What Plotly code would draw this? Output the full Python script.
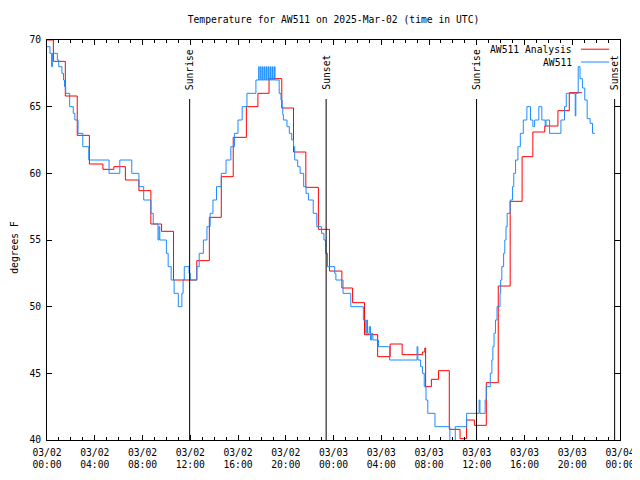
import plotly.graph_objects as go

# ---------------- data ----------------
analysis_time = [
    "2025-03-02 00:00", "2025-03-02 00:32", "2025-03-02 01:32", "2025-03-02 02:32",
    "2025-03-02 03:33", "2025-03-02 04:41", "2025-03-02 05:36", "2025-03-02 06:34",
    "2025-03-02 07:42", "2025-03-02 08:42", "2025-03-02 09:36", "2025-03-02 10:36",
    "2025-03-02 12:33", "2025-03-02 13:36", "2025-03-02 14:36", "2025-03-02 15:36",
    "2025-03-02 16:42", "2025-03-02 17:40", "2025-03-02 18:36", "2025-03-02 19:40",
    "2025-03-02 20:39", "2025-03-02 21:41", "2025-03-02 22:44", "2025-03-02 23:40",
    "2025-03-03 00:42", "2025-03-03 01:36", "2025-03-03 02:36", "2025-03-03 03:42",
    "2025-03-03 04:45", "2025-03-03 05:45", "2025-03-03 07:27", "2025-03-03 07:39",
    "2025-03-03 07:43", "2025-03-03 08:12", "2025-03-03 08:48", "2025-03-03 09:42",
    "2025-03-03 10:36", "2025-03-03 11:09", "2025-03-03 11:48", "2025-03-03 12:48",
    "2025-03-03 13:48", "2025-03-03 14:48", "2025-03-03 15:48", "2025-03-03 16:42",
    "2025-03-03 17:42", "2025-03-03 18:48", "2025-03-03 19:45", "2025-03-03 20:48",
]
analysis_temp = [
    70.0, 68.4, 65.8, 62.85,
    60.7, 60.3, 60.5, 59.5,
    58.7, 56.2, 55.65, 52.0,
    53.45, 56.7, 59.75, 62.7,
    65.0, 66.0, 67.1, 64.9,
    61.6, 58.95, 55.8, 52.67,
    51.4, 50.3, 47.9, 46.25,
    47.2, 46.4, 46.6, 46.9,
    44.0, 44.55, 45.2, 40.8,
    40.1, 41.5, 41.1, 44.3,
    51.55, 57.9, 61.25, 63.1,
    63.55, 64.7, 66.05, 66.05,
]

obs_time = [
    "2025-03-02 00:00", "2025-03-02 00:15", "2025-03-02 00:23", "2025-03-02 00:27",
    "2025-03-02 00:52", "2025-03-02 00:59", "2025-03-02 01:15", "2025-03-02 01:23",
    "2025-03-02 01:28", "2025-03-02 01:34", "2025-03-02 01:54", "2025-03-02 02:12",
    "2025-03-02 02:20", "2025-03-02 02:36", "2025-03-02 03:00", "2025-03-02 03:30",
    "2025-03-02 05:12", "2025-03-02 06:06", "2025-03-02 07:06", "2025-03-02 07:42",
    "2025-03-02 08:06", "2025-03-02 08:42", "2025-03-02 08:54", "2025-03-02 09:18",
    "2025-03-02 09:23", "2025-03-02 09:27", "2025-03-02 10:00", "2025-03-02 10:09",
    "2025-03-02 10:24", "2025-03-02 10:39", "2025-03-02 11:00", "2025-03-02 11:18",
    "2025-03-02 11:24", "2025-03-02 11:30", "2025-03-02 11:54", "2025-03-02 12:00",
    "2025-03-02 12:33", "2025-03-02 12:45", "2025-03-02 13:06", "2025-03-02 13:24",
    "2025-03-02 13:40", "2025-03-02 13:54", "2025-03-02 14:12", "2025-03-02 14:36",
    "2025-03-02 15:00", "2025-03-02 15:24", "2025-03-02 15:42", "2025-03-02 16:00",
    "2025-03-02 16:21", "2025-03-02 16:45", "2025-03-02 17:30",
    "2025-03-02 17:44", "2025-03-02 17:46", "2025-03-02 17:54", "2025-03-02 17:56",
    "2025-03-02 18:04", "2025-03-02 18:06", "2025-03-02 18:14", "2025-03-02 18:16",
    "2025-03-02 18:24", "2025-03-02 18:26", "2025-03-02 18:34", "2025-03-02 18:36",
    "2025-03-02 18:44", "2025-03-02 18:46", "2025-03-02 18:54", "2025-03-02 18:56",
    "2025-03-02 19:04", "2025-03-02 19:06",
    "2025-03-02 19:27", "2025-03-02 19:36", "2025-03-02 19:42", "2025-03-02 19:45",
    "2025-03-02 19:48", "2025-03-02 20:06", "2025-03-02 20:18", "2025-03-02 20:30",
    "2025-03-02 20:39", "2025-03-02 20:45", "2025-03-02 21:00", "2025-03-02 21:12",
    "2025-03-02 21:30", "2025-03-02 21:42", "2025-03-02 21:54", "2025-03-02 22:18",
    "2025-03-02 22:36", "2025-03-02 23:00", "2025-03-02 23:12", "2025-03-02 23:21",
    "2025-03-02 23:30", "2025-03-03 00:06", "2025-03-03 00:12", "2025-03-03 00:48",
    "2025-03-03 01:27", "2025-03-03 02:30", "2025-03-03 02:42", "2025-03-03 02:47",
    "2025-03-03 02:51", "2025-03-03 03:00", "2025-03-03 03:06", "2025-03-03 03:12",
    "2025-03-03 03:18", "2025-03-03 03:46", "2025-03-03 04:42", "2025-03-03 07:00",
    "2025-03-03 07:04", "2025-03-03 07:18", "2025-03-03 07:27", "2025-03-03 07:36",
    "2025-03-03 07:45", "2025-03-03 07:54", "2025-03-03 08:30", "2025-03-03 09:45",
    "2025-03-03 10:12", "2025-03-03 11:09", "2025-03-03 12:12", "2025-03-03 12:16",
    "2025-03-03 12:42", "2025-03-03 12:48", "2025-03-03 13:08", "2025-03-03 13:16",
    "2025-03-03 13:21", "2025-03-03 13:27", "2025-03-03 13:34", "2025-03-03 13:42",
    "2025-03-03 13:57", "2025-03-03 14:00", "2025-03-03 14:06", "2025-03-03 14:15",
    "2025-03-03 14:21", "2025-03-03 14:27", "2025-03-03 14:33", "2025-03-03 14:48",
    "2025-03-03 15:00", "2025-03-03 15:06", "2025-03-03 15:15", "2025-03-03 15:27",
    "2025-03-03 15:39", "2025-03-03 15:54", "2025-03-03 16:12", "2025-03-03 16:30",
    "2025-03-03 16:42", "2025-03-03 16:51", "2025-03-03 17:12", "2025-03-03 17:27",
    "2025-03-03 17:44", "2025-03-03 17:48", "2025-03-03 18:06", "2025-03-03 19:03",
    "2025-03-03 19:21", "2025-03-03 19:30", "2025-03-03 20:15", "2025-03-03 20:18",
    "2025-03-03 20:30", "2025-03-03 20:39", "2025-03-03 20:51", "2025-03-03 21:03",
    "2025-03-03 21:15", "2025-03-03 21:30", "2025-03-03 21:42", "2025-03-03 21:54",
]
obs_temp = [
    69.5, 69.0, 68.0, 69.0,
    68.5, 68.0, 67.5, 67.0,
    66.5, 66.0, 65.0, 64.5,
    64.0, 63.0, 62.0, 61.0,
    60.0, 61.0, 60.0, 59.0,
    58.0, 57.0, 56.2, 55.0,
    56.0, 55.0, 54.0, 53.0,
    52.0, 51.0, 50.0, 51.0,
    52.0, 53.0, 52.5, 52.0,
    53.0, 54.0, 55.0, 56.0,
    57.0, 58.0, 59.0, 60.0,
    61.0, 62.0, 63.0, 64.0,
    65.0, 66.0, 67.0,
    68.0, 67.0, 68.0, 67.0,
    68.0, 67.0, 68.0, 67.0,
    68.0, 67.0, 68.0, 67.0,
    68.0, 67.0, 68.0, 67.0,
    68.0, 67.0,
    66.0, 65.5, 65.0, 64.4,
    64.0, 63.5, 63.0, 62.5,
    62.0, 61.0, 60.5, 60.0,
    59.0, 58.5, 58.0, 57.0,
    56.0, 55.5, 55.0, 54.0,
    53.0, 52.5, 52.0, 51.0,
    50.0, 49.0, 48.0, 49.0,
    48.0, 48.5, 47.5, 48.0,
    47.5, 47.0, 46.0, 47.0,
    46.0, 45.5, 45.0, 44.0,
    43.0, 42.0, 41.0, 39.5,
    41.0, 42.0, 43.0, 42.0,
    43.0, 44.0, 45.0, 46.0,
    47.0, 48.0, 49.0, 50.0,
    51.0, 52.0, 53.0, 54.0,
    55.0, 56.0, 57.0, 58.0,
    59.0, 60.0, 61.0, 62.0,
    63.0, 64.0, 65.0, 64.0,
    63.5, 64.0, 65.0, 64.0,
    63.5, 64.0, 63.0, 64.0,
    65.0, 66.0, 64.3, 66.0,
    68.0, 67.1, 66.4, 65.5,
    64.1, 63.75, 63.0, 63.0,
]

sun_events = ["Sunrise", "Sunset", "Sunrise", "Sunset"]
sun_times = ["2025-03-02 11:57", "2025-03-02 23:23", "2025-03-03 11:59", "2025-03-03 23:33"]

series_names = ["AW511 Analysis", "AW511"]
series_colors = ["#ff0000", "#1c8cff"]

FONT = "DejaVu Sans Mono"
FS = 9.7

# The page body has an 8px margin, so the figure is 8px smaller than the
# 640x480 window and its margins are reduced by 8px on the left/top.
W, H = 632, 472

fig = go.Figure()
fig.add_trace(go.Scatter(x=analysis_time, y=analysis_temp, mode="lines",
                         line=dict(color=series_colors[0], width=1, shape="hv"),
                         name=series_names[0]))
fig.add_trace(go.Scatter(x=obs_time, y=obs_temp, mode="lines",
                         line=dict(color=series_colors[1], width=1, shape="hv"),
                         name=series_names[1]))

# sunrise / sunset markers
for ev, t in zip(sun_events, sun_times):
    fig.add_shape(type="line", xref="x", yref="paper", x0=t, x1=t, y0=0, y1=0.8525,
                  line=dict(color="black", width=1))
    fig.add_annotation(x=t, xref="x", y=0.87, yref="paper", text=ev, textangle=-90,
                       showarrow=False, xanchor="center", yanchor="bottom",
                       font=dict(family=FONT, size=FS, color="black"))

# gnuplot-style key (text then sample line)
key_y = [0.977, 0.945]
for name, col, ky in zip(series_names, series_colors, key_y):
    fig.add_annotation(x=0.9197, xref="paper", y=ky, yref="paper", text=name,
                       showarrow=False, xanchor="right", yanchor="middle",
                       font=dict(family=FONT, size=FS, color="black"))
    fig.add_shape(type="line", xref="paper", yref="paper", x0=0.932, x1=0.981,
                  y0=ky, y1=ky, line=dict(color=col, width=1))

# y-axis title (placed like gnuplot's ylabel)
fig.add_annotation(x=-0.058, xref="paper", y=0.4825, yref="paper", text="degrees F",
                   textangle=-90, showarrow=False, xanchor="center", yanchor="middle",
                   font=dict(family=FONT, size=FS, color="black"))

fig.update_layout(
    width=W, height=H,
    margin=dict(l=39, r=20, t=32, b=40, autoexpand=False),
    paper_bgcolor="white", plot_bgcolor="white",
    showlegend=False,
    font=dict(family=FONT, size=FS, color="black"),
    title=dict(text="Temperature for AW511 on 2025-Mar-02 (time in UTC)",
               x=0.5, xref="paper", y=1 - 12 / H, yref="container",
               xanchor="center", yanchor="middle", automargin=False,
               font=dict(family=FONT, size=FS, color="black")),
)
fig.update_xaxes(
    type="date", range=["2025-03-02 00:00", "2025-03-04 00:00"],
    tick0="2025-03-02 00:00", dtick=4 * 3600000, tickformat="%m/%d<br>%H:%M",
    ticks="inside", ticklen=5, tickcolor="black", tickwidth=1,
    showline=True, linecolor="black", linewidth=1, mirror="ticks",
    showgrid=False, zeroline=False, automargin=False, ticklabelstandoff=3,
    minor=dict(dtick=3600000, ticks="inside", ticklen=3, tickcolor="black", showgrid=False),
    tickfont=dict(family=FONT, size=FS, color="black"),
)
fig.update_yaxes(
    range=[40, 70], dtick=5, tick0=40,
    ticks="inside", ticklen=5, tickcolor="black", tickwidth=1,
    showline=True, linecolor="black", linewidth=1, mirror="ticks",
    showgrid=False, zeroline=False, automargin=False, ticklabelstandoff=3,
    tickfont=dict(family=FONT, size=FS, color="black"),
)

fig.write_html("out.html")
